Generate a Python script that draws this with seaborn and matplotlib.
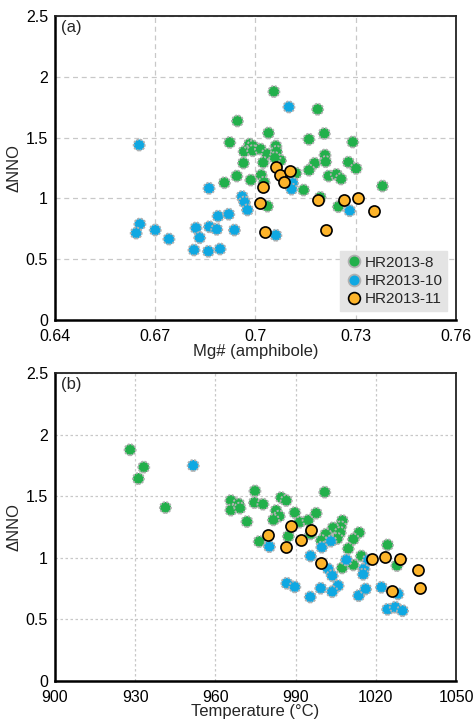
import numpy as np
import pandas as pd
import matplotlib
matplotlib.use("Agg")
import matplotlib.pyplot as plt
from matplotlib.ticker import MultipleLocator, FixedLocator
import seaborn as sns

# ---------------- data ----------------
# Panel (a): Mg# (amphibole) vs dNNO
a_mg_8 = [0.6946, 0.6923, 0.6966, 0.6982, 0.6992, 0.6992, 0.6964, 0.6944, 0.6986, 0.6907,
          0.7055, 0.7186, 0.7039, 0.7206, 0.7160, 0.7291, 0.7015, 0.7035, 0.7061, 0.7063,
          0.7075, 0.7058, 0.7023, 0.7208, 0.7177, 0.7210, 0.7278, 0.7301, 0.7160, 0.7219,
          0.7242, 0.7256, 0.7017, 0.7026, 0.7121, 0.7144, 0.7380, 0.7194, 0.7248, 0.7036]
a_nno_8 = [1.637, 1.460, 1.386, 1.447, 1.431, 1.392, 1.291, 1.184, 1.151, 1.129,
           1.879, 1.733, 1.538, 1.534, 1.486, 1.464, 1.406, 1.365, 1.431, 1.386,
           1.313, 1.335, 1.295, 1.357, 1.289, 1.302, 1.298, 1.246, 1.232, 1.184,
           1.198, 1.160, 1.192, 1.132, 1.207, 1.069, 1.102, 1.009, 0.932, 0.936]

a_mg_10 = [0.6652, 0.7100, 0.6861, 0.7111, 0.7108, 0.6960, 0.6967, 0.6976, 0.7282, 0.7061,
           0.6654, 0.6643, 0.6700, 0.6741, 0.6822, 0.6862, 0.6884, 0.6833, 0.6888, 0.6920,
           0.6937, 0.6816, 0.6859, 0.6894]
a_nno_10 = [1.439, 1.752, 1.083, 1.127, 1.076, 1.016, 0.970, 0.905, 0.899, 0.697,
            0.789, 0.715, 0.740, 0.666, 0.757, 0.767, 0.746, 0.677, 0.854, 0.870,
            0.740, 0.576, 0.565, 0.584]

a_mg_11 = [0.7061, 0.7074, 0.7104, 0.7086, 0.7022, 0.7013, 0.7187, 0.7264, 0.7308, 0.7356,
           0.7028, 0.7211]
a_nno_11 = [1.262, 1.191, 1.223, 1.133, 1.090, 0.960, 0.983, 0.984, 1.003, 0.899,
            0.722, 0.743]

# Panel (b): Temperature vs dNNO
b_t_8 = [928.1, 933.2, 931.2, 941.3, 965.8, 965.8, 968.7, 969.2, 974.8, 974.6,
         971.8, 976.4, 977.8, 984.6, 986.5, 982.7, 983.9, 981.7, 989.7, 991.5,
         994.7, 997.7, 1000.9, 1007.5, 1006.9, 1004.0, 1006.7, 1001.3, 1005.6, 995.6,
         999.6, 987.3, 1013.8, 1011.6, 1009.7, 1014.6, 1011.6, 1007.4, 1024.4, 1027.9]
b_nno_8 = [1.877, 1.736, 1.643, 1.408, 1.465, 1.387, 1.438, 1.403, 1.543, 1.448,
           1.294, 1.132, 1.435, 1.489, 1.465, 1.384, 1.338, 1.308, 1.367, 1.289,
           1.305, 1.362, 1.533, 1.302, 1.251, 1.243, 1.205, 1.191, 1.156, 1.194,
           1.140, 1.175, 1.205, 1.151, 1.075, 1.015, 0.942, 0.918, 1.105, 0.937]

b_t_10 = [951.7, 980.2, 999.8, 1003.2, 995.6, 1009.0, 1015.6, 1015.3, 1002.2, 1003.7,
          986.7, 989.7, 999.4, 1005.9, 1003.7, 995.5, 1013.6, 1016.2, 1022.1, 1028.3,
          1024.4, 1027.3, 1030.0, 1017.2]
b_nno_10 = [1.749, 1.091, 1.086, 1.135, 1.015, 0.983, 0.910, 0.866, 0.910, 0.855,
            0.793, 0.764, 0.753, 0.774, 0.725, 0.682, 0.693, 0.747, 0.761, 0.707,
            0.582, 0.599, 0.571, 0.983]

b_t_11 = [979.8, 988.3, 986.4, 991.9, 995.8, 999.6, 1018.6, 1023.6, 1029.2, 1035.7,
          1026.1, 1036.5]
b_nno_11 = [1.188, 1.262, 1.091, 1.145, 1.227, 0.961, 0.991, 1.007, 0.988, 0.904,
            0.734, 0.753]

samples = ["HR2013-8", "HR2013-10", "HR2013-11"]
x_ticks_a = [0.64, 0.67, 0.70, 0.73, 0.76]
x_labels_a = ["0.64", "0.67", "0.7", "0.73", "0.76"]
x_ticks_b = [900, 930, 960, 990, 1020, 1050]
y_ticks = [0, 0.5, 1, 1.5, 2, 2.5]
y_labels = ["0", "0.5", "1", "1.5", "2", "2.5"]

df_a = pd.DataFrame({
    "x": a_mg_8 + a_mg_10 + a_mg_11,
    "y": a_nno_8 + a_nno_10 + a_nno_11,
    "sample": [samples[0]] * len(a_mg_8) + [samples[1]] * len(a_mg_10) + [samples[2]] * len(a_mg_11),
})
df_b = pd.DataFrame({
    "x": b_t_8 + b_t_10 + b_t_11,
    "y": b_nno_8 + b_nno_10 + b_nno_11,
    "sample": [samples[0]] * len(b_t_8) + [samples[1]] * len(b_t_10) + [samples[2]] * len(b_t_11),
})

# ---------------- style ----------------
sns.set_style("white")
plt.rcParams["font.family"] = ["Liberation Sans", "DejaVu Sans"]
plt.rcParams["axes.unicode_minus"] = False

FS_TICK = 11.5
FS_LAB = 12

colors = {"HR2013-8": "#22b04b", "HR2013-10": "#0fa8e2", "HR2013-11": "#fdb42a"}
edges = {"HR2013-8": "#b0b0b0", "HR2013-10": "#b0b0b0", "HR2013-11": "#000000"}
estyle = {"HR2013-8": (0, (1.2, 0.8)), "HR2013-10": (0, (1.2, 0.8)), "HR2013-11": "-"}
elw = {"HR2013-8": 1.3, "HR2013-10": 1.3, "HR2013-11": 1.2}

fig = plt.figure(figsize=(4.75, 7.25), dpi=100)
ax_a = fig.add_axes([55 / 475, 1 - 320 / 725, 401 / 475, 304 / 725])
ax_b = fig.add_axes([55 / 475, 1 - 681 / 725, 401 / 475, 308 / 725])


def draw(ax, df, dash):
    for s in samples:
        sub = df[df["sample"] == s]
        sns.scatterplot(data=sub, x="x", y="y", ax=ax, color=colors[s],
                        edgecolor=edges[s], linewidth=elw[s], linestyle=estyle[s],
                        s=64, label=s, zorder=3, legend=False)
    ax.grid(True, color="#c8c8c8", linestyle=dash, linewidth=0.9, zorder=0)
    ax.set_axisbelow(True)
    for side in ["left", "bottom"]:
        ax.spines[side].set_linewidth(1.8)
        ax.spines[side].set_color("black")
    for side in ["top", "right"]:
        ax.spines[side].set_linewidth(1.3)
        ax.spines[side].set_color("#222222")
    ax.tick_params(which="major", direction="out", length=4, width=1.2,
                   labelsize=FS_TICK, colors="black", pad=1)
    ax.tick_params(axis="x", which="major", pad=2.5)
    ax.tick_params(which="minor", direction="in", length=3, width=1.0)
    ax.set_ylim(0, 2.5)
    ax.yaxis.set_major_locator(FixedLocator(y_ticks))
    ax.set_yticklabels(y_labels)
    ax.yaxis.set_minor_locator(MultipleLocator(0.1))
    ax.set_ylabel("ΔNNO", fontsize=FS_LAB)
    ax.yaxis.set_label_coords(-0.083, 0.5)


draw(ax_a, df_a, (0, (4, 3)))
ax_a.set_xlim(0.64, 0.76)
ax_a.xaxis.set_major_locator(FixedLocator(x_ticks_a))
ax_a.set_xticklabels(x_labels_a)
ax_a.xaxis.set_minor_locator(MultipleLocator(0.006))
ax_a.set_xlabel("Mg# (amphibole)", fontsize=FS_LAB, labelpad=0)
ax_a.text(0.015, 0.988, "(a)", transform=ax_a.transAxes, fontsize=FS_LAB,
          ha="left", va="top")

handles = []
for s in samples:
    handles.append(plt.Line2D([], [], marker="o", linestyle="none",
                              markerfacecolor=colors[s], markeredgecolor=edges[s],
                              markeredgewidth=elw[s], markersize=8.5, label=s))
leg = ax_a.legend(handles=handles, loc="lower right", bbox_to_anchor=(0.985, 0.02),
                  frameon=True, fontsize=11, handletextpad=0.1,
                  borderpad=0.3, labelspacing=0.28, handlelength=1.2,
                  borderaxespad=0.2, fancybox=False)
leg.get_frame().set_facecolor("#e4e4e4")
leg.get_frame().set_edgecolor("#e4e4e4")
leg.get_frame().set_alpha(1)

draw(ax_b, df_b, (0, (2, 2)))
ax_b.set_xlim(900, 1050)
ax_b.xaxis.set_major_locator(FixedLocator(x_ticks_b))
ax_b.xaxis.set_minor_locator(MultipleLocator(6))
ax_b.set_xlabel("Temperature (°C)", fontsize=FS_LAB, labelpad=-1)
ax_b.text(0.015, 0.988, "(b)", transform=ax_b.transAxes, fontsize=FS_LAB,
          ha="left", va="top")

fig.savefig("out.png", dpi=100)
